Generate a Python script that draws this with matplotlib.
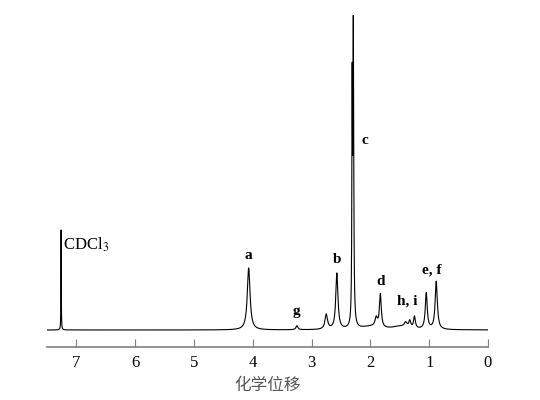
import numpy as np
import matplotlib.pyplot as plt

# peak list: shift (ppm), height, half-width (ppm)
shifts = [7.26, 4.07, 3.25, 2.75, 2.57, 2.31, 2.29, 1.90, 1.83, 1.40, 1.33, 1.25, 1.05, 0.88, 2.0, 1.5]
heights = [100, 62, 4, 15, 56, 225, 300, 9, 33, 5, 7, 12, 36, 48, 3, 3]
widths = [0.003, 0.028, 0.02, 0.025, 0.022, 0.006, 0.008, 0.025, 0.018, 0.03, 0.02, 0.018, 0.02, 0.022, 0.2, 0.15]

labels = ['CDCl$_3$', 'a', 'g', 'b', 'c', 'd', 'h, i', 'e, f']
label_x = [7.26, 4.07, 3.25, 2.57, 2.10, 1.83, 1.38, 0.95]
label_y = [76, 68, 12, 64, 183, 42, 22, 53]

plt.rcParams['font.family'] = ['Liberation Serif', 'DejaVu Serif']
plt.rcParams['mathtext.fontset'] = 'stix'

x = np.linspace(0, 7.5, 8000)
y = np.zeros_like(x)
for x0, h, w in zip(shifts, heights, widths):
    y += h / (1 + ((x - x0) / w) ** 2)

fig = plt.figure(figsize=(5.4, 4), dpi=100)
ax = fig.add_axes([47 / 540, 53 / 400, 441 / 540, 332 / 400])
ax.plot(x, y, color='black', lw=0.8)

for lab, lx, ly in zip(labels, label_x, label_y):
    if lab.startswith('CDCl'):
        ax.text(lx - 0.04, ly, lab, ha='left', va='bottom', fontsize=12)
    else:
        ax.text(lx, ly, lab, ha='center', va='bottom', fontsize=11, fontweight='bold')

ax.set_xlim(7.5, 0)
ax.set_ylim(-17, 315)
ax.set_xticks([7, 6, 5, 4, 3, 2, 1, 0])
ax.tick_params(axis='x', direction='in', length=6, color='gray', labelsize=12, pad=6)
ax.set_yticks([])
for s in ['top', 'left', 'right']:
    ax.spines[s].set_visible(False)
ax.spines['bottom'].set_color('gray')
ax.spines['bottom'].set_linewidth(1.2)
ax.set_xlabel('化学位移', family=['Noto Sans CJK SC', 'DejaVu Sans'], fontsize=12, color='#555555', labelpad=4)

fig.savefig('out.png', dpi=100)
